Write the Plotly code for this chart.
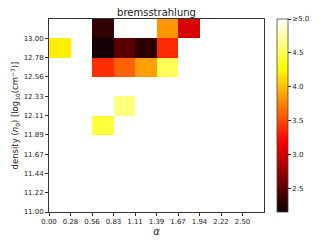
import numpy as np
import plotly.graph_objects as go

# axis grid (cell edges) and tick labels
alpha_ticks = [0.00, 0.2778, 0.5556, 0.8333, 1.1111, 1.3889, 1.6667, 1.9444, 2.2222, 2.5000]
alpha_ticklabels = ["0.00", "0.28", "0.56", "0.83", "1.11", "1.39", "1.67", "1.94", "2.22", "2.50"]
density_ticks = [11.00, 11.2222, 11.4444, 11.6667, 11.8889, 12.1111, 12.3333, 12.5556, 12.7778, 13.0000]
density_ticklabels = ["11.00", "11.22", "11.44", "11.67", "11.89", "12.11", "12.33", "12.56", "12.78", "13.00"]
alpha_edges = alpha_ticks + [2.7778]
density_edges = density_ticks + [13.2222]

# occupied cells: column index (alpha), row index (density), value
cell_col = [2, 5, 6, 0, 2, 3, 4, 5, 2, 3, 4, 5, 3, 2]
cell_row = [9, 9, 9, 8, 8, 8, 8, 8, 7, 7, 7, 7, 5, 4]
cell_val = [2.31, 3.83, 3.03, 4.20, 2.19, 2.48, 2.29, 3.36, 3.38, 3.60, 3.87, 4.52, 4.64, 4.45]

cbar_vals = [2.5, 3.0, 3.5, 4.0, 4.5, 5.0]
cbar_text = ["2.5", "3.0", "3.5", "4.0", "4.5", "≥5.0"]
zmin, zmax = 2.15, 5.0

z = [[None] * 10 for _ in range(10)]
for c, r, v in zip(cell_col, cell_row, cell_val):
    z[r][c] = v

hot = [
    [0.0, "rgb(11,0,0)"],
    [0.365079, "rgb(255,0,0)"],
    [0.746032, "rgb(255,255,0)"],
    [1.0, "rgb(255,255,255)"],
]

# page body has a default margin: figure is offset on the page
W, H = 319, 237
L, R, T, B = 41, 63, 11, 33

FONT = "DejaVu Sans"
fig = go.Figure(go.Heatmap(
    x=alpha_edges, y=density_edges, z=z,
    colorscale=hot, zmin=zmin, zmax=zmax, zsmooth=False,
    colorbar=dict(
        thickness=11, len=1.0, lenmode="fraction", y=0.5, yanchor="middle",
        x=1.062, xanchor="left", xpad=0, ypad=0,
        outlinecolor="#444", outlinewidth=0.8,
        tickvals=cbar_vals, ticktext=cbar_text,
        ticks="outside", ticklen=3, tickwidth=0.8, tickcolor="#222",
        tickfont=dict(size=7, family=FONT, color="#222"),
    ),
))

axis_common = dict(
    showgrid=False, zeroline=False, showline=True, linecolor="#333", linewidth=0.8,
    mirror=True, ticks="outside", ticklen=3, tickwidth=0.8, tickcolor="#333",
    tickfont=dict(size=7, family=FONT, color="#222"),
)
fig.update_xaxes(range=[alpha_edges[0], alpha_edges[-1]], tickvals=alpha_ticks,
                 ticktext=alpha_ticklabels,
                 title=dict(text="<i>α</i>", font=dict(size=10, family=FONT, color="#222"), standoff=2),
                 **axis_common)
fig.update_yaxes(range=[density_edges[0], density_edges[-1]], tickvals=density_ticks,
                 ticktext=density_ticklabels,
                 title=dict(text="density (<i>n</i><sub>0</sub>) [log<sub>10</sub>(cm<sup>−3</sup>)]",
                            font=dict(size=8.5, family=FONT, color="#222"), standoff=3),
                 **axis_common)

fig.update_layout(
    width=W, height=H,
    margin=dict(l=L, r=R, t=T, b=B, autoexpand=False),
    paper_bgcolor="white", plot_bgcolor="white",
    title=dict(text="bremsstrahlung", x=(L + (W - R)) / 2 / W, xanchor="center",
               y=1 - 4 / H, yanchor="middle", yref="container",
               font=dict(size=10, family=FONT, color="#222")),
)

fig.write_html("out.html")
